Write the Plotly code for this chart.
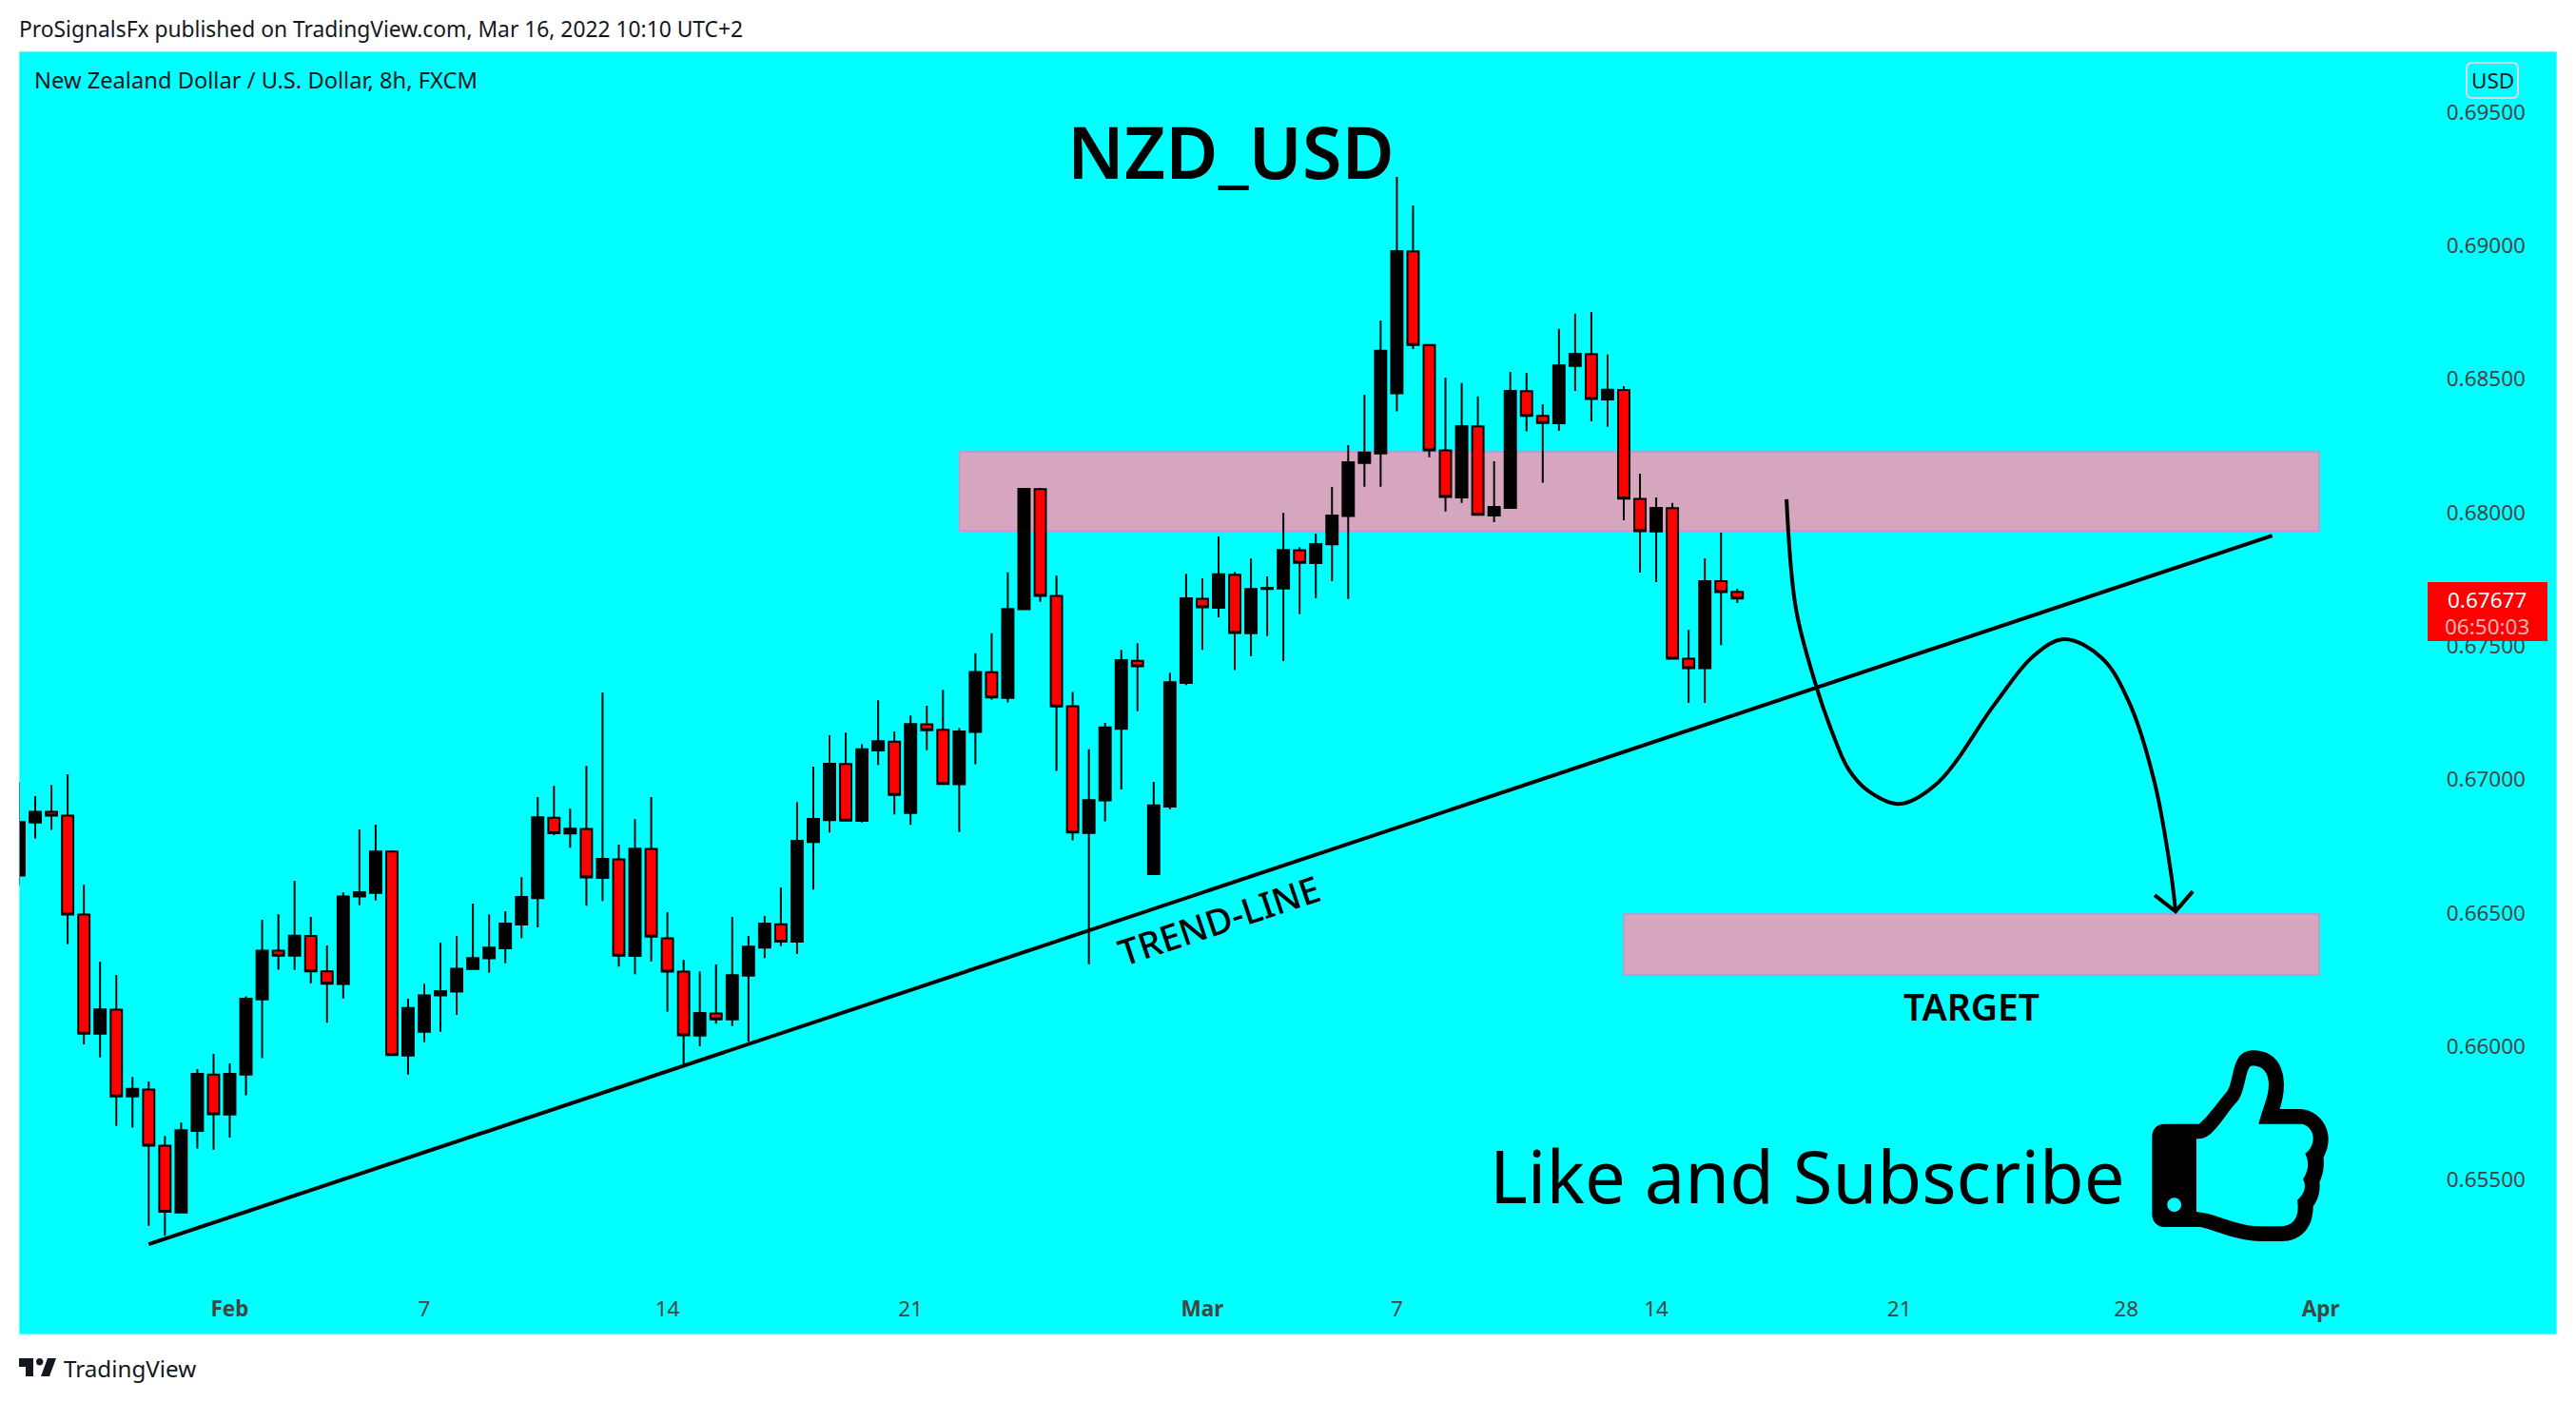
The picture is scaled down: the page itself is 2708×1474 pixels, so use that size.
import plotly.graph_objects as go

opens = [.66640,.66839,.66879,.66865,.66494,.66048,.66138,.65813,.65839,.65628,.65378,.65684,.65895,.65745,.65895,.66176,.66359,.66340,.66414,.66281,
.66234,.66562,.66575,.66730,.65966,.66055,.66191,.66206,.66290,.66330,.66368,.66457,.66556,.66857,.66798,.66815,.66631,.66701,.66339,.66740,
.66405,.66280,.66041,.66124,.66101,.66265,.66370,.66458,.66393,.66766,.66848,.67058,.66845,.67109,.67142,.66875,.67207,.67186,.66982,.67178,
.67402,.67306,.67638,.68088,.67688,.67275,.66800,.66922,.67190,.67445,.66646,.66899,.67362,.67677,.67643,.67767,.67548,.67714,.67716,.67859,
.67811,.67881,.67987,.68186,.68222,.68447,.68979,.68628,.68233,.68057,.68323,.67989,.68018,.68455,.68362,.68335,.68549,.68594,.68424,.68459,
.68051,.67929,.68017,.67453,.67417,.67743,.67703]
highs = [.66990,.66938,.66980,.67020,.66606,.66318,.66268,.65886,.65869,.65665,.65715,.65915,.65972,.65937,.66188,.66475,.66495,.66621,.66485,.66378,
.66578,.66813,.66831,.66735,.66179,.66235,.66389,.66414,.66535,.66495,.66507,.66634,.66934,.66976,.66891,.67051,.67326,.66756,.66852,.66934,
.66503,.66325,.66281,.66307,.66485,.66414,.66489,.66596,.66916,.67048,.67166,.67176,.67133,.67297,.67180,.67240,.67276,.67336,.67193,.67473,
.67548,.67776,.68089,.68092,.67765,.67328,.67113,.67212,.67486,.67511,.66991,.67400,.67771,.67754,.67911,.67778,.67829,.67761,.67999,.67871,
.67921,.68096,.68253,.68442,.68720,.69258,.69151,.68628,.68506,.68485,.68435,.68192,.68527,.68524,.68406,.68688,.68745,.68752,.68592,.68474,
.68146,.68057,.68036,.67561,.67829,.67925,.67715]
lows = [.66605,.66779,.66811,.66383,.66008,.65959,.65702,.65696,.65328,.65291,.65378,.65618,.65613,.65659,.65817,.65956,.66288,.66287,.66237,.66089,
.66180,.66529,.66547,.65965,.65895,.66016,.66055,.66118,.66290,.66276,.66312,.66406,.66446,.66792,.66745,.66527,.66545,.66299,.66271,.66318,
.66130,.65930,.66001,.66085,.66076,.66018,.66331,.66376,.66346,.66588,.66802,.66846,.66839,.67055,.66869,.66830,.67110,.66983,.66803,.67057,
.67300,.67289,.67638,.67666,.67032,.66772,.66308,.66843,.66963,.67256,.66646,.66889,.67354,.67486,.67608,.67410,.67462,.67537,.67444,.67619,
.67679,.67743,.67676,.68097,.68097,.68379,.68613,.68207,.68004,.68036,.67992,.67964,.68018,.68304,.68112,.68306,.68456,.68342,.68321,.67971,
.67775,.67740,.67449,.67287,.67287,.67504,.67661]
closes = [.66841,.66879,.66865,.66494,.66048,.66139,.65813,.65841,.65628,.65381,.65686,.65897,.65746,.65897,.66179,.66359,.66340,.66415,.66281,.66235,
.66562,.66578,.66730,.65968,.66144,.66191,.66207,.66291,.66331,.66370,.66460,.66560,.66859,.66799,.66816,.66633,.66703,.66340,.66741,.66411,
.66280,.66042,.66125,.66101,.66267,.66374,.66460,.66393,.66770,.66852,.67059,.66846,.67113,.67144,.66942,.67208,.67185,.66983,.67180,.67403,
.67308,.67639,.68089,.67688,.67274,.66802,.66923,.67195,.67447,.67424,.66903,.67365,.67679,.67645,.67769,.67549,.67714,.67718,.67860,.67812,
.67882,.67989,.68189,.68225,.68606,.68980,.68628,.68233,.68059,.68324,.67992,.68021,.68456,.68362,.68336,.68552,.68595,.68426,.68460,.68052,
.67930,.68018,.67453,.67417,.67743,.67702,.67678]
bars = list(range(len(opens)))

x_ticks = [13, 25, 40, 55, 73, 85, 101, 116, 130, 142]
x_labels = ["<b>Feb</b>", "7", "14", "21", "<b>Mar</b>", "7", "14", "21", "28", "<b>Apr</b>"]
y_ticks = [0.655, 0.66, 0.665, 0.67, 0.675, 0.68, 0.685, 0.69, 0.695]

zone_upper = dict(x0=58, x1=141.9, y0=0.67931, y1=0.68228)
zone_target = dict(x0=99, x1=141.9, y0=0.66268, y1=0.66496)
trend_x = [8, 139]
trend_y = [0.65259, 0.67914]
path_x = [109.04, 109.62, 110.92, 111.91, 112.85, 114.03, 116.02, 118.37, 121.89, 124.24, 126.17, 128.52, 130.22, 131.75, 132.75, 133.04]
path_y = [.68050, .67640, .67340, .67169, .67040, .66960, .66909, .66988, .67283, .67461, .67526, .67454, .67283, .66988, .66653, .66506]
head_x = [131.75, 133.04, 134.10]
head_y = [.66567, .66506, .66581]

W, H = 2708, 1474
L, R, T, B = 20, 2688, 54, 1403
INK = "#131722"
FONT = "Noto Sans"


def px(x):
    return (x - L) / (R - L)


def py(y):
    return (B - y) / (B - T)


def path(cmds, ox=0.0, oy=0.0, k=1.0):
    out = []
    for c, pts in cmds:
        coords = " ".join(f"{px(ox + a * k):.6f},{py(oy + b * k):.6f}" for a, b in pts)
        out.append(f"{c}{coords}")
    return " ".join(out) + " Z"


fig = go.Figure()
fig.add_trace(go.Candlestick(
    x=bars, open=opens, high=highs, low=lows, close=closes,
    increasing=dict(line=dict(color="#000000", width=2), fillcolor="#000000"),
    decreasing=dict(line=dict(color="#000000", width=2), fillcolor="#FF0000"),
    whiskerwidth=0, showlegend=False, hoverinfo="skip",
))
for xs, ys, sh in ((trend_x, trend_y, "linear"), (path_x, path_y, "spline"), (head_x, head_y, "linear")):
    fig.add_trace(go.Scatter(x=xs, y=ys, mode="lines", showlegend=False, hoverinfo="skip",
                             line=dict(color="#000000", width=4, shape=sh)))

shapes = []
for z in (zone_upper, zone_target):
    shapes.append(dict(type="rect", xref="x", yref="y", layer="below", fillcolor="#D6A5BE",
                       line=dict(color="#CC8FD0", width=1.5), **z))

thumb_outer = [("M", [(75, 395)]), ("L", [(185, 395)]),
    ("C", [(215, 370), (245, 325), (275, 290)]), ("C", [(290, 265), (290, 215), (310, 185)]),
    ("C", [(325, 165), (345, 163), (360, 163)]), ("C", [(410, 165), (452, 195), (453, 270)]),
    ("C", [(453, 300), (447, 325), (440, 348)]), ("L", [(505, 348)]),
    ("C", [(555, 350), (593, 395), (593, 440)]), ("C", [(593, 465), (588, 480), (578, 500)]),
    ("C", [(580, 530), (578, 550), (565, 580)]), ("C", [(568, 610), (560, 635), (545, 655)]),
    ("C", [(545, 725), (505, 765), (445, 765)]), ("L", [(380, 765)]),
    ("C", [(310, 765), (250, 735), (190, 720)]), ("L", [(75, 720)]),
    ("C", [(52, 720), (37, 700), (37, 680)]), ("L", [(37, 435)]),
    ("C", [(37, 412), (52, 395), (75, 395)])]
thumb_inner = [("M", [(177, 442)]), ("C", [(195, 442), (210, 440), (230, 418)]),
    ("C", [(255, 395), (280, 350), (305, 325)]), ("C", [(330, 295), (330, 235), (345, 215)]),
    ("C", [(350, 210), (360, 212), (365, 212)]), ("C", [(390, 215), (405, 240), (405, 270)]),
    ("C", [(405, 310), (385, 345), (373, 395)]), ("L", [(505, 395)]),
    ("C", [(530, 395), (545, 420), (545, 440)]), ("C", [(545, 460), (535, 478), (520, 488)]),
    ("C", [(530, 510), (535, 535), (513, 570)]), ("C", [(525, 590), (518, 615), (495, 635)]),
    ("C", [(502, 680), (490, 718), (440, 718)]), ("L", [(380, 718)]),
    ("C", [(320, 718), (260, 690), (210, 677)]), ("L", [(177, 672)])]
r, c = 22, 12
cx, cy = 107, 650
thumb_dot = [("M", [(cx - r, cy)]), ("C", [(cx - r, cy - c), (cx - c, cy - r), (cx, cy - r)]),
    ("C", [(cx + c, cy - r), (cx + r, cy - c), (cx + r, cy)]),
    ("C", [(cx + r, cy + c), (cx + c, cy + r), (cx, cy + r)]),
    ("C", [(cx - c, cy + r), (cx - r, cy + c), (cx - r, cy)])]
k = 1 / 3
thumb = " ".join(path(p, 2250, 1050, k) for p in (thumb_outer, thumb_inner, thumb_dot))
shapes.append(dict(type="path", xref="paper", yref="paper", path=thumb, fillcolor="#000000",
                   line=dict(width=0), layer="above"))

# current price tag
shapes.append(dict(type="rect", xref="paper", yref="paper", x0=px(2552), x1=px(2678), y0=py(674), y1=py(612),
                   fillcolor="#FF0000", line=dict(width=0), layer="above"))
# USD button
ub = [("M", [(2599, 66)]), ("L", [(2641, 66)]), ("C", [(2645, 66), (2647, 68), (2647, 72)]), ("L", [(2647, 97)]),
      ("C", [(2647, 101), (2645, 103), (2641, 103)]), ("L", [(2599, 103)]), ("C", [(2595, 103), (2593, 101), (2593, 97)]),
      ("L", [(2593, 72)]), ("C", [(2593, 68), (2595, 66), (2599, 66)])]
shapes.append(dict(type="path", xref="paper", yref="paper", path=path(ub), fillcolor="rgba(0,0,0,0)",
                   line=dict(color="#D3DAE3", width=2), layer="above"))
# panel border
shapes.append(dict(type="rect", xref="paper", yref="paper", x0=0, x1=1, y0=0, y1=1,
                   line=dict(color="#D6EEF2", width=1), fillcolor="rgba(0,0,0,0)", layer="above"))
# TradingView logo
logo_t = [("M", [(20, 1428)]), ("L", [(35, 1428)]), ("L", [(35, 1447)]), ("L", [(27, 1447)]), ("L", [(27, 1437)]), ("L", [(20, 1437)])]
logo_s = [("M", [(50, 1428)]), ("L", [(59, 1428)]), ("L", [(52, 1447)]), ("L", [(43, 1447)])]
logo_d = [("M", [(38, 1431.7)]), ("C", [(38, 1429.5), (39.5, 1428), (41.7, 1428)]), ("C", [(43.8, 1428), (45.4, 1429.5), (45.4, 1431.7)]),
          ("C", [(45.4, 1433.8), (43.8, 1435.4), (41.7, 1435.4)]), ("C", [(39.5, 1435.4), (38, 1433.8), (38, 1431.7)])]
for p in (logo_t, logo_s, logo_d):
    shapes.append(dict(type="path", xref="paper", yref="paper", path=path(p), fillcolor=INK, line=dict(width=0), layer="above"))


def note(text, x, y, size, color=INK, anchor="center", angle=0, weight=None):
    f = dict(family=FONT, size=size, color=color)
    if weight:
        f["weight"] = weight
    return dict(text=text, x=px(x), y=py(y), xref="paper", yref="paper", showarrow=False, xanchor=anchor,
                yanchor="middle", textangle=angle, font=f)


annotations = [
    note("ProSignalsFx published on TradingView.com, Mar 16, 2022 10:10 UTC+2", 18, 30, 22.8, anchor="left"),
    note("New Zealand Dollar / U.S. Dollar, 8h, FXCM", 34, 84, 23.7, anchor="left"),
    note("NZD_USD", 1294, 158, 75.5, color="#000000", weight=600),
    note("TREND-LINE", 1281, 967, 38, color="#000000", angle=-18.5, weight=500),
    note("TARGET", 2072, 1057, 39, color="#000000", weight=600),
    note("Like and Subscribe", 1900, 1235, 76, color="#000000"),
    note("TradingView", 65, 1438, 24.2, anchor="left"),
    note("USD", 2620, 84, 22.5),
    note("0.67677", 2614, 630, 22.5, color="#FFFFFF"),
    note("06:50:03", 2614, 658, 22.5, color="#FFB3B3"),
]

fig.update_layout(
    width=W, height=H, margin=dict(l=L, r=W - R, t=T, b=H - B, autoexpand=False),
    paper_bgcolor="#FFFFFF", plot_bgcolor="#00FFFF", shapes=shapes, annotations=annotations,
    showlegend=False, font=dict(family=FONT, size=22.5, color=INK), boxgap=0.3, boxgroupgap=0,
    xaxis=dict(range=[0, 156.57], tickmode="array", tickvals=x_ticks, ticktext=x_labels, showgrid=False, zeroline=False,
               showline=False, ticks="", rangeslider=dict(visible=False), ticklabelposition="inside", ticklabelstandoff=12,
               fixedrange=True),
    yaxis=dict(range=[0.64921, 0.69728], tickmode="array", tickvals=y_ticks, tickformat=".5f", side="right", showgrid=False,
               zeroline=False, showline=False, ticks="", ticklabelposition="inside", ticklabelstandoff=30, fixedrange=True),
)
fig.write_html("out.html", config=dict(displayModeBar=False),
               post_script="document.body.style.margin='0';document.body.style.overflow='hidden';")
